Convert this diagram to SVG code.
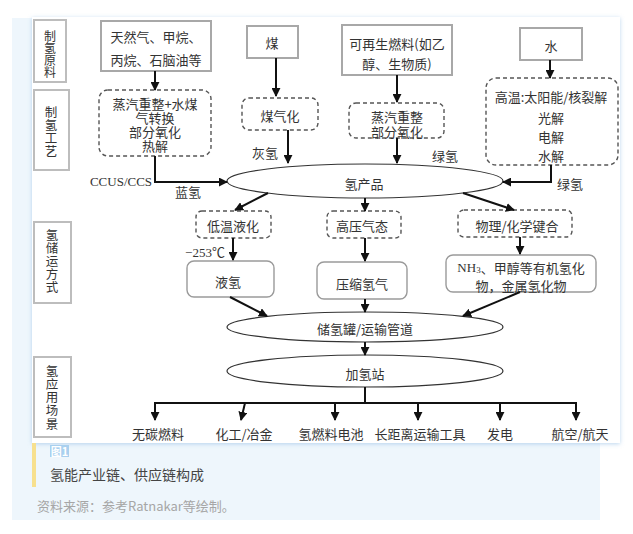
<svg xmlns="http://www.w3.org/2000/svg" width="633" height="534" viewBox="0 0 633 534">
<defs>
<style>
text{font-family:"Noto Sans CJK SC","Noto Sans",sans-serif;fill:#333;font-size:13px}
.c{text-anchor:middle;dominant-baseline:central}
.v{writing-mode:vertical-rl;text-anchor:start;font-size:12.5px}
.serif{font-family:"Liberation Serif","Noto Sans CJK SC",serif}
.lbl{fill:#fff;stroke:#bdbdbd;stroke-width:2}
.src{fill:#fff;stroke:#a8a8a8;stroke-width:2}
.proc{fill:#fff;stroke:#555;stroke-width:1.4;stroke-dasharray:4 3}
.rbox{fill:#fff;stroke:#9a9a9a;stroke-width:1.4}
.ell{fill:#fff;stroke:#333;stroke-width:1.2}
.ln{fill:none;stroke:#111;stroke-width:2}
.ar{fill:none;stroke:#111;stroke-width:2;marker-end:url(#ah)}
</style>
<marker id="ah" viewBox="0 0 10 10" refX="9" refY="5" markerWidth="9" markerHeight="9" markerUnits="userSpaceOnUse" orient="auto">
<path d="M0,0 L10,5 L0,10 Z" fill="#111"/>
</marker>
<filter id="sh" x="-5%" y="-5%" width="110%" height="110%">
<feDropShadow dx="0" dy="1" stdDeviation="2" flood-color="#8fbbe3" flood-opacity="0.6"/>
</filter>
</defs>
<rect x="0" y="0" width="633" height="534" fill="#fff"/>
<rect x="12" y="18" width="588" height="502" fill="#eef6fc"/>
<rect x="32" y="17" width="588" height="426" fill="#fff" filter="url(#sh)"/>
<rect x="32" y="443" width="4" height="44" fill="#f7e08e"/>
<rect x="50" y="445" width="19" height="12" fill="#a9d0ef"/>
<text x="59.5" y="451" class="c" style="fill:#fff;font-size:11px;font-weight:bold">图1</text>
<text x="50" y="480" style="font-size:14px;fill:#444">氢能产业链、供应链构成</text>
<text x="37" y="511" style="font-size:13px;fill:#a6a6a6">资料来源：参考Ratnakar等绘制。</text>

<g id="label-raw">
<rect class="lbl" x="34" y="20" width="32" height="62"/>
<text class="v" x="50" y="30" style="font-size:12px">制氢原料</text>
</g>
<g id="label-process">
<rect class="lbl" x="34" y="90" width="35" height="80"/>
<text class="v" x="51" y="105.5" style="letter-spacing:0.8px">制氢工艺</text>
</g>
<g id="label-storage">
<rect class="lbl" x="34" y="222" width="37" height="81"/>
<text class="v" x="52" y="228.5" style="letter-spacing:0.5px">氢储运方式</text>
</g>
<g id="label-app">
<rect class="lbl" x="34" y="357" width="37" height="80"/>
<text class="v" x="52" y="364.5" style="letter-spacing:0.75px">氢应用场景</text>
</g>

<g id="src-gas">
<rect class="src" x="101" y="21" width="110" height="50"/>
<text class="c" x="156" y="36">天然气、甲烷、</text>
<text class="c" x="156" y="59">丙烷、石脑油等</text>
</g>
<g id="src-coal">
<rect class="src" x="247" y="26" width="51" height="32"/>
<text class="c" x="272" y="42">煤</text>
</g>
<g id="src-renew">
<rect class="src" x="342" y="25" width="110" height="50"/>
<text class="c" x="397" y="43">可再生燃料(如乙</text>
<text class="c" x="397" y="63">醇、生物质)</text>
</g>
<g id="src-water">
<rect class="src" x="520" y="28" width="62" height="32"/>
<text class="c" x="551" y="45">水</text>
</g>

<g id="proc-gas">
<rect class="proc" x="99" y="90" width="112" height="66" rx="9"/>
<text class="c" x="155" y="103">蒸汽重整+水煤</text>
<text class="c" x="155" y="117">气转换</text>
<text class="c" x="155" y="131">部分氧化</text>
<text class="c" x="155" y="145">热解</text>
</g>
<g id="proc-coal">
<rect class="proc" x="242" y="98" width="76" height="32" rx="7"/>
<text class="c" x="280" y="115">煤气化</text>
</g>
<g id="proc-renew">
<rect class="proc" x="349" y="103" width="95" height="35" rx="7"/>
<text class="c" x="397" y="116">蒸汽重整</text>
<text class="c" x="397" y="131">部分氧化</text>
</g>
<g id="proc-water">
<rect class="proc" x="486" y="78" width="132" height="87" rx="10"/>
<text class="c" x="551" y="96">高温:太阳能/核裂解</text>
<text class="c" x="551" y="117">光解</text>
<text class="c" x="551" y="136">电解</text>
<text class="c" x="551" y="155">水解</text>
</g>

<g id="h2-product">
<ellipse class="ell" cx="365" cy="181" rx="138" ry="17"/>
<text class="c" x="364" y="183">氢产品</text>
</g>

<g id="st-liquid">
<rect class="proc" x="196" y="211" width="75" height="27" rx="6"/>
<text class="c" x="233" y="225">低温液化</text>
</g>
<g id="st-gas">
<rect class="proc" x="327" y="211" width="74" height="27" rx="6"/>
<text class="c" x="362" y="225">高压气态</text>
</g>
<g id="st-chem">
<rect class="proc" x="458" y="210" width="114" height="27" rx="6"/>
<text class="c" x="517" y="225">物理/化学键合</text>
</g>
<g id="liquid-h2">
<rect class="rbox" x="187" y="261" width="87" height="36" rx="7"/>
<text class="c" x="228" y="281">液氢</text>
</g>
<g id="comp-h2">
<rect class="rbox" x="317" y="262" width="90" height="37" rx="7"/>
<text class="c" x="362" y="283">压缩氢气</text>
</g>
<g id="chem-h2">
<rect class="rbox" x="446" y="255" width="150" height="37" rx="7"/>
<text class="c" x="521" y="267"><tspan class="serif">NH</tspan><tspan class="serif" style="font-size:9px" dy="3">3</tspan><tspan dy="-3">、甲醇等有机氢化</tspan></text>
<text class="c" x="521" y="285">物，金属氢化物</text>
</g>

<g id="storage-tank">
<ellipse class="ell" cx="365" cy="327" rx="138" ry="15"/>
<text class="c" x="365" y="328">储氢罐/运输管道</text>
</g>
<g id="station">
<ellipse class="ell" cx="365" cy="371" rx="138" ry="16"/>
<text class="c" x="365" y="373">加氢站</text>
</g>

<g id="apps">
<text class="c" x="158" y="433">无碳燃料</text>
<text class="c" x="244" y="433">化工/冶金</text>
<text class="c" x="331" y="433">氢燃料电池</text>
<text class="c" x="420" y="433">长距离运输工具</text>
<text class="c" x="500" y="433">发电</text>
<text class="c" x="580" y="433">航空/航天</text>
</g>

<g id="connectors">
<path class="ar" d="M155,71 V90"/>
<path class="ar" d="M276,58 V96"/>
<path class="ar" d="M288,130 V163"/>
<path class="ar" d="M397,75 V102"/>
<path class="ar" d="M397,138 V163"/>
<path class="ar" d="M550,60 V78"/>
<path class="ar" d="M551,165 V182 H503"/>
<path class="ar" d="M155,156 V182 H227"/>
<path class="ar" d="M268,193 L235,210"/>
<path class="ar" d="M233,238 V260"/>
<path class="ar" d="M230,297 L267,316"/>
<path class="ar" d="M365,198 V211"/>
<path class="ar" d="M365,238 V261"/>
<path class="ar" d="M365,299 V312"/>
<path class="ar" d="M463,193 L514,210"/>
<path class="ar" d="M520,237 V254"/>
<path class="ar" d="M520,292 L463,316"/>
<path class="ar" d="M365,342 V355"/>
<path class="ln" d="M365,387 V403 M154,403 H577"/>
<path class="ar" d="M155,402 V420"/>
<path class="ar" d="M245,403 L241,420"/>
<path class="ar" d="M335,403 V420"/>
<path class="ar" d="M418,403 V420"/>
<path class="ar" d="M500,403 V420"/>
<path class="ar" d="M576,402 V420"/>
</g>
<g id="connector-labels">
<text class="c" x="265" y="152">灰氢</text>
<text class="c" x="445" y="155">绿氢</text>
<text class="c" x="570" y="183">绿氢</text>
<text class="c serif" x="121" y="181">CCUS/CCS</text>
<text class="c" x="188" y="191">蓝氢</text>
<text class="c serif" x="205" y="252">−253℃</text>
</g>
</svg>
